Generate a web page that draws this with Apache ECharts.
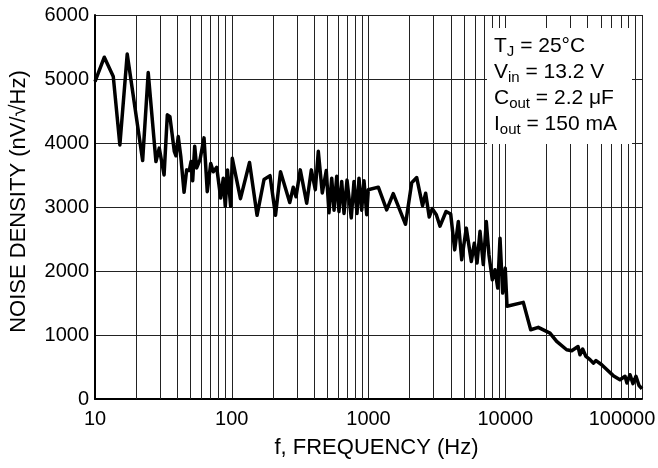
<!DOCTYPE html>
<html>
<head>
<meta charset="utf-8">
<script src="https://cdn.jsdelivr.net/npm/echarts@6/dist/echarts.min.js"></script>
<style>
html,body{margin:0;padding:0;background:#fff;}
#chart{width:658px;height:468px;}
</style>
</head>
<body>
<div id="chart"></div>
<script>
// Frequency (Hz) and noise density (nV/√Hz)
const freqHz = [10, 11.7, 13.6, 15.2, 17.2, 22.3, 24.5, 27.9, 29.5, 32.0,
  33.8, 35.3, 38.0, 39.1, 40.6, 42.4, 44.8, 46.8, 48.9, 50.4,
  51.8, 53.6, 55.4, 58.6, 62.7, 66.2, 70.2, 73.3, 77.6, 83.0,
  86.7, 89.7, 93.1, 98.2, 100.9, 115.8, 134.9, 153.1, 172.2, 190.5,
  208.9, 227.3, 265.5, 281.8, 295.1, 317.0, 353.2, 381.8, 408.3, 429.5,
  459.2, 491.3, 514.0, 538.3, 559.8, 585.6, 608.1, 636.8, 662.2, 696.6,
  748.2, 783.4, 824.1, 852.1, 891.3, 926.8, 970.6, 996.5, 1180, 1358,
  1517, 1865, 2070, 2252, 2483, 2618, 2780, 2928, 3133, 3334,
  3690, 3990, 4268, 4539, 4803, 5190, 5648, 5943, 6216, 6538,
  6912, 7268, 7603, 8040, 8414, 8808, 9155, 9575, 10000, 10300,
  13550, 15350, 17440, 21240, 23770, 28120, 30620, 34040, 35210, 36810,
  38910, 41670, 44060, 46100, 50740, 55460, 61660, 69020, 75160, 77620,
  81660, 85900, 90360, 95070, 100000];
const noiseDensity = [4960, 5340, 5040, 3970, 5390, 3725, 5100, 3710, 3920, 3500,
  4440, 4410, 3870, 3800, 4100, 3790, 3230, 3580, 3570, 3710,
  3410, 3950, 3610, 3740, 4080, 3240, 3680, 3550, 3620, 3140,
  3450, 3010, 3580, 3010, 3760, 3130, 3695, 2870, 3430, 3490,
  2870, 3550, 3070, 3310, 3160, 3580, 3060, 3580, 3270, 3870,
  3220, 3570, 2910, 3450, 2950, 3480, 2930, 3400, 2900, 3420,
  2830, 3400, 2900, 3450, 2950, 3410, 2880, 3270, 3310, 2955,
  3210, 2730, 3380, 3460, 3020, 3216, 2845, 2975, 2880, 2700,
  2930, 2890, 2330, 2773, 2175, 2670, 2150, 2435, 2125, 2620,
  2100, 2773, 2250, 1863, 2020, 1733, 2513, 1655, 2045, 1450,
  1510, 1082, 1120, 1030, 900, 770, 755, 820, 690, 780,
  665, 615, 560, 600, 535, 457, 365, 300, 355, 250,
  380, 240, 355, 210, 160];

const xTickLabels = ['10', '100', '1000', '10000', '100000'];
const yTickLabels = ['0', '1000', '2000', '3000', '4000', '5000', '6000'];
const minorGridFreqs = [20,30,40,50,60,70,80,90,
  200,300,400,500,600,700,800,900,
  2000,3000,4000,5000,6000,7000,8000,9000,
  20000,30000,40000,50000,60000,70000,80000,90000];
const conditionLines = [
  ['T', 'J', ' = 25°C'],
  ['V', 'in', ' = 13.2 V'],
  ['C', 'out', ' = 2.2 μF'],
  ['I', 'out', ' = 150 mA']
];

const FONT = '"Liberation Sans", Arial, Helvetica, sans-serif';
const chart = echarts.init(document.getElementById('chart'), null, {renderer: 'canvas'});

const lineData = freqHz.map((f, i) => [f, noiseDensity[i]]);

const graphics = [{
  type: 'rect', z: 100,
  shape: {x: 487, y: 28, width: 145, height: 116},
  style: {fill: '#fff'}
}];
conditionLines.forEach((ln, i) => {
  graphics.push({
    type: 'text', z: 101,
    x: 494, y: 46 + i * 26,
    style: {
      text: ln[0] + '{sub|' + ln[1] + '}' + ln[2],
      font: '21px ' + FONT,
      fill: '#000',
      verticalAlign: 'middle',
      rich: {
        sub: {fontSize: 15, fontFamily: FONT, fill: '#000', padding: [12, 0, 0, 0]}
      }
    }
  });
});

chart.setOption({
  animation: false,
  backgroundColor: '#fff',
  grid: {left: 95, right: 16, top: 15, bottom: 69, containLabel: false, outerBoundsMode: 'none'},
  xAxis: {
    type: 'log', logBase: 10, min: 10, max: 100000,
    name: 'f, FREQUENCY (Hz)', nameLocation: 'middle', nameGap: 38,
    nameTextStyle: {fontFamily: FONT, fontSize: 22, color: '#000', padding: [0, 0, 0, 16]},
    axisLine: {show: true, lineStyle: {color: '#000', width: 2}},
    axisTick: {show: false},
    splitLine: {show: true, lineStyle: {color: '#222', width: 1}},
    axisLabel: {
      fontFamily: FONT, fontSize: 20, color: '#000', margin: 10,
      formatter: function (v) {
        const idx = Math.round(Math.log10(v)) - 1;
        const s = xTickLabels[idx] || '';
        return idx === xTickLabels.length - 1 ? '{last|' + s + '}' : s;
      },
      rich: {last: {fontFamily: FONT, fontSize: 20, color: '#000', padding: [0, 40, 0, 0]}}
    }
  },
  yAxis: {
    type: 'value', min: 0, max: 6000, interval: 1000,
    name: 'NOISE DENSITY (nV/√Hz)', nameLocation: 'middle', nameGap: 65,
    nameTextStyle: {fontFamily: FONT, fontSize: 22, color: '#000', padding: [0, 0, 0, 11]},
    axisLine: {show: true, lineStyle: {color: '#000', width: 2}},
    axisTick: {show: false},
    splitLine: {show: true, lineStyle: {color: '#222', width: 1}},
    axisLabel: {
      fontFamily: FONT, fontSize: 20, color: '#000', margin: 6,
      formatter: function (v) { return yTickLabels[Math.round(v / 1000)]; }
    }
  },
  series: [
    {
      type: 'line', data: [], z: 1, silent: true,
      markLine: {
        silent: true, z: 1, symbol: ['none', 'none'],
        label: {show: false},
        lineStyle: {color: '#222', width: 1, type: 'solid'},
        emphasis: {disabled: true},
        data: minorGridFreqs.map(f => ({xAxis: f}))
      }
    },
    {
      type: 'line', data: lineData, z: 5,
      showSymbol: false, symbol: 'none', smooth: false,
      lineStyle: {color: '#000', width: 3.5, join: 'round'},
      silent: true
    }
  ],
  graphic: graphics
});
</script>
</body>
</html>
